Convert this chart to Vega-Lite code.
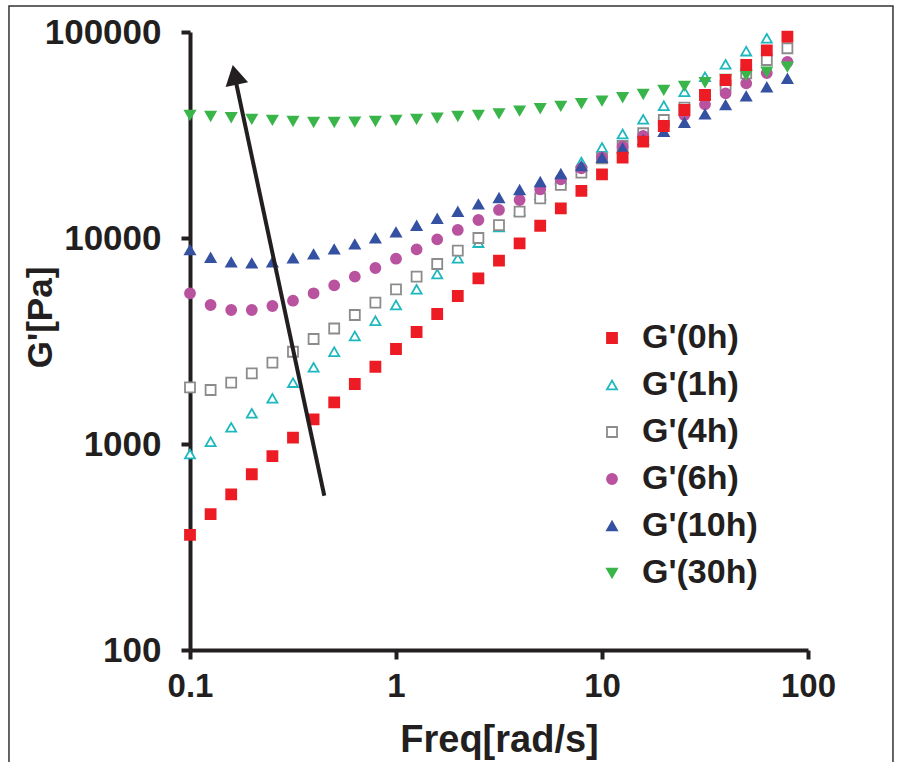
{
  "$schema": "https://vega.github.io/schema/vega-lite/v6.json",
  "width": 618,
  "height": 618,
  "autosize": {"type": "none"},
  "padding": {"left": 190, "top": 32, "right": 91, "bottom": 112},
  "background": "white",
  "config": {"view": {"stroke": null}, "font": "Liberation Sans"},
  "encoding": {
    "x": {
      "field": "f", "type": "quantitative",
      "scale": {"type": "log", "domain": [0.1, 100], "nice": false, "zero": false},
      "axis": {
        "values": [0.1, 1, 10, 100], "format": "~g", "grid": false,
        "domainWidth": 4, "domainColor": "#231F20", "tickWidth": 4, "tickSize": 9, "tickColor": "#231F20",
        "labelFont": "Liberation Sans", "labelFontWeight": "bold", "labelFontSize": 33, "labelColor": "#231F20",
        "labelPadding": 11, "labelFlush": false, "labelOverlap": false,
        "title": "Freq[rad/s]", "titleFont": "Liberation Sans", "titleFontSize": 38, "titleFontWeight": "bold",
        "titleColor": "#231F20", "titlePadding": 18
      }
    },
    "y": {
      "field": "g", "type": "quantitative",
      "scale": {"type": "log", "domain": [100, 100000], "nice": false, "zero": false},
      "axis": {
        "values": [100, 1000, 10000, 100000], "format": "~g", "grid": false,
        "domainWidth": 4, "domainColor": "#231F20", "tickWidth": 4, "tickSize": 9, "tickColor": "#231F20",
        "labelFont": "Liberation Sans", "labelFontWeight": "bold", "labelFontSize": 35, "labelColor": "#231F20",
        "labelPadding": 20, "labelFlush": false, "labelOverlap": false,
        "title": "G'[Pa]", "titleFont": "Liberation Sans", "titleFontSize": 35, "titleFontWeight": "bold",
        "titleColor": "#231F20", "titleAngle": -90, "titleAlign": "center", "titleBaseline": "middle",
        "titleX": -150, "titleY": 285
      }
    }
  },
  "layer": [
    {
      "data": {"values": [{"f": 0.01322, "f2": 258.5, "g": 26.2, "g2": 133740}]},
      "mark": {"type": "rect", "fill": null, "stroke": "#333333", "strokeWidth": 1.5},
      "encoding": {"x2": {"field": "f2"}, "y2": {"field": "g2"}}
    },
    {
      "data": {"values": [
        {"s":"G'(1h)","f":0.1,"g":894},{"s":"G'(1h)","f":0.1259,"g":1026},{"s":"G'(1h)","f":0.1585,"g":1205},{"s":"G'(1h)","f":0.1995,"g":1409},{"s":"G'(1h)","f":0.2512,"g":1667},{"s":"G'(1h)","f":0.3162,"g":1985},{"s":"G'(1h)","f":0.3981,"g":2357},{"s":"G'(1h)","f":0.5012,"g":2805},{"s":"G'(1h)","f":0.631,"g":3344},{"s":"G'(1h)","f":0.7943,"g":3967},{"s":"G'(1h)","f":1,"g":4730},{"s":"G'(1h)","f":1.259,"g":5636},{"s":"G'(1h)","f":1.585,"g":6688},{"s":"G'(1h)","f":1.995,"g":7972},{"s":"G'(1h)","f":2.512,"g":9490},{"s":"G'(1h)","f":3.162,"g":11310},{"s":"G'(1h)","f":3.981,"g":13520},{"s":"G'(1h)","f":5.012,"g":16170},{"s":"G'(1h)","f":6.31,"g":19340},{"s":"G'(1h)","f":7.943,"g":23380},{"s":"G'(1h)","f":10,"g":27500},{"s":"G'(1h)","f":12.59,"g":31980},{"s":"G'(1h)","f":15.85,"g":37690},{"s":"G'(1h)","f":19.95,"g":43870},{"s":"G'(1h)","f":25.12,"g":51310},{"s":"G'(1h)","f":31.62,"g":60600},{"s":"G'(1h)","f":39.81,"g":69700},{"s":"G'(1h)","f":50.12,"g":80700},{"s":"G'(1h)","f":63.1,"g":93200},
        {"s":"G'(4h)","f":0.1,"g":1885},{"s":"G'(4h)","f":0.1259,"g":1829},{"s":"G'(4h)","f":0.1585,"g":1985},{"s":"G'(4h)","f":0.1995,"g":2204},{"s":"G'(4h)","f":0.2512,"g":2481},{"s":"G'(4h)","f":0.3162,"g":2805},{"s":"G'(4h)","f":0.3981,"g":3233},{"s":"G'(4h)","f":0.5012,"g":3637},{"s":"G'(4h)","f":0.631,"g":4229},{"s":"G'(4h)","f":0.7943,"g":4852},{"s":"G'(4h)","f":1,"g":5636},{"s":"G'(4h)","f":1.259,"g":6489},{"s":"G'(4h)","f":1.585,"g":7478},{"s":"G'(4h)","f":1.995,"g":8675},{"s":"G'(4h)","f":2.512,"g":10000},{"s":"G'(4h)","f":3.162,"g":11560},{"s":"G'(4h)","f":3.981,"g":13420},{"s":"G'(4h)","f":5.012,"g":15580},{"s":"G'(4h)","f":6.31,"g":18090},{"s":"G'(4h)","f":7.943,"g":20750},{"s":"G'(4h)","f":10,"g":24370},{"s":"G'(4h)","f":12.59,"g":27970},{"s":"G'(4h)","f":15.85,"g":32240},{"s":"G'(4h)","f":19.95,"g":37400},{"s":"G'(4h)","f":25.12,"g":42910},{"s":"G'(4h)","f":31.62,"g":49450},{"s":"G'(4h)","f":39.81,"g":54700},{"s":"G'(4h)","f":50.12,"g":63030},{"s":"G'(4h)","f":63.1,"g":73110},{"s":"G'(4h)","f":79.43,"g":83370},
        {"s":"G'(6h)","f":0.1,"g":5390},{"s":"G'(6h)","f":0.1259,"g":4730},{"s":"G'(6h)","f":0.1585,"g":4472},{"s":"G'(6h)","f":0.1995,"g":4472},{"s":"G'(6h)","f":0.2512,"g":4676},{"s":"G'(6h)","f":0.3162,"g":4961},{"s":"G'(6h)","f":0.3981,"g":5390},{"s":"G'(6h)","f":0.5012,"g":5893},{"s":"G'(6h)","f":0.631,"g":6489},{"s":"G'(6h)","f":0.7943,"g":7153},{"s":"G'(6h)","f":1,"g":7933},{"s":"G'(6h)","f":1.259,"g":8812},{"s":"G'(6h)","f":1.585,"g":9856},{"s":"G'(6h)","f":1.995,"g":10940},{"s":"G'(6h)","f":2.512,"g":12230},{"s":"G'(6h)","f":3.162,"g":13680},{"s":"G'(6h)","f":3.981,"g":15290},{"s":"G'(6h)","f":5.012,"g":17240},{"s":"G'(6h)","f":6.31,"g":19280},{"s":"G'(6h)","f":7.943,"g":21790},{"s":"G'(6h)","f":10,"g":24640},{"s":"G'(6h)","f":12.59,"g":27750},{"s":"G'(6h)","f":15.85,"g":31270},{"s":"G'(6h)","f":19.95,"g":35090},{"s":"G'(6h)","f":25.12,"g":39550},{"s":"G'(6h)","f":31.62,"g":44570},{"s":"G'(6h)","f":39.81,"g":50400},{"s":"G'(6h)","f":50.12,"g":56360},{"s":"G'(6h)","f":63.1,"g":63240},{"s":"G'(6h)","f":79.43,"g":71500},
        {"s":"G'(10h)","f":0.1,"g":8743},{"s":"G'(10h)","f":0.1259,"g":8026},{"s":"G'(10h)","f":0.1585,"g":7621},{"s":"G'(10h)","f":0.1995,"g":7537},{"s":"G'(10h)","f":0.2512,"g":7621},{"s":"G'(10h)","f":0.3162,"g":7972},{"s":"G'(10h)","f":0.3981,"g":8335},{"s":"G'(10h)","f":0.5012,"g":8812},{"s":"G'(10h)","f":0.631,"g":9320},{"s":"G'(10h)","f":0.7943,"g":9966},{"s":"G'(10h)","f":1,"g":10660},{"s":"G'(10h)","f":1.259,"g":11470},{"s":"G'(10h)","f":1.585,"g":12410},{"s":"G'(10h)","f":1.995,"g":13420},{"s":"G'(10h)","f":2.512,"g":14580},{"s":"G'(10h)","f":3.162,"g":15640},{"s":"G'(10h)","f":3.981,"g":17100},{"s":"G'(10h)","f":5.012,"g":18700},{"s":"G'(10h)","f":6.31,"g":20450},{"s":"G'(10h)","f":7.943,"g":22360},{"s":"G'(10h)","f":10,"g":24530},{"s":"G'(10h)","f":12.59,"g":27250},{"s":"G'(10h)","f":15.85,"g":29900},{"s":"G'(10h)","f":19.95,"g":32810},{"s":"G'(10h)","f":25.12,"g":36280},{"s":"G'(10h)","f":31.62,"g":39860},{"s":"G'(10h)","f":39.81,"g":44150},{"s":"G'(10h)","f":50.12,"g":48700},{"s":"G'(10h)","f":63.1,"g":53950},{"s":"G'(10h)","f":79.43,"g":59350},
        {"s":"G'(30h)","f":0.1,"g":39550},{"s":"G'(30h)","f":0.1259,"g":39100},{"s":"G'(30h)","f":0.1585,"g":38550},{"s":"G'(30h)","f":0.1995,"g":37820},{"s":"G'(30h)","f":0.2512,"g":37400},{"s":"G'(30h)","f":0.3162,"g":36980},{"s":"G'(30h)","f":0.3981,"g":36570},{"s":"G'(30h)","f":0.5012,"g":36570},{"s":"G'(30h)","f":0.631,"g":36700},{"s":"G'(30h)","f":0.7943,"g":36980},{"s":"G'(30h)","f":1,"g":37400},{"s":"G'(30h)","f":1.259,"g":37820},{"s":"G'(30h)","f":1.585,"g":38370},{"s":"G'(30h)","f":1.995,"g":39100},{"s":"G'(30h)","f":2.512,"g":39550},{"s":"G'(30h)","f":3.162,"g":40220},{"s":"G'(30h)","f":3.981,"g":41500},{"s":"G'(30h)","f":5.012,"g":42620},{"s":"G'(30h)","f":6.31,"g":43740},{"s":"G'(30h)","f":7.943,"g":45070},{"s":"G'(30h)","f":10,"g":46400},{"s":"G'(30h)","f":12.59,"g":48200},{"s":"G'(30h)","f":15.85,"g":50000},{"s":"G'(30h)","f":19.95,"g":52300},{"s":"G'(30h)","f":25.12,"g":54700},{"s":"G'(30h)","f":31.62,"g":57000},{"s":"G'(30h)","f":39.81,"g":59100},{"s":"G'(30h)","f":50.12,"g":61840},{"s":"G'(30h)","f":63.1,"g":64170},{"s":"G'(30h)","f":79.43,"g":67870},
        {"s":"G'(0h)","f":0.1,"g":362},{"s":"G'(0h)","f":0.1259,"g":457},{"s":"G'(0h)","f":0.1585,"g":570},{"s":"G'(0h)","f":0.1995,"g":713},{"s":"G'(0h)","f":0.2512,"g":874},{"s":"G'(0h)","f":0.3162,"g":1073},{"s":"G'(0h)","f":0.3981,"g":1318},{"s":"G'(0h)","f":0.5012,"g":1594},{"s":"G'(0h)","f":0.631,"g":1956},{"s":"G'(0h)","f":0.7943,"g":2372},{"s":"G'(0h)","f":1,"g":2892},{"s":"G'(0h)","f":1.259,"g":3497},{"s":"G'(0h)","f":1.585,"g":4277},{"s":"G'(0h)","f":1.995,"g":5228},{"s":"G'(0h)","f":2.512,"g":6375},{"s":"G'(0h)","f":3.162,"g":7759},{"s":"G'(0h)","f":3.981,"g":9425},{"s":"G'(0h)","f":5.012,"g":11470},{"s":"G'(0h)","f":6.31,"g":13940},{"s":"G'(0h)","f":7.943,"g":16920},{"s":"G'(0h)","f":10,"g":20380},{"s":"G'(0h)","f":12.59,"g":24530},{"s":"G'(0h)","f":15.85,"g":29340},{"s":"G'(0h)","f":19.95,"g":34970},{"s":"G'(0h)","f":25.12,"g":41820},{"s":"G'(0h)","f":31.62,"g":49450},{"s":"G'(0h)","f":39.81,"g":58480},{"s":"G'(0h)","f":50.12,"g":69170},{"s":"G'(0h)","f":63.1,"g":81450},{"s":"G'(0h)","f":79.43,"g":94890}
      ]},
      "mark": {"type": "point", "filled": true, "size": 100, "strokeWidth": 1.8, "opacity": 1},
      "encoding": {
        "fill": {
          "field": "s", "type": "nominal",
          "scale": {"domain": ["G'(0h)", "G'(1h)", "G'(4h)", "G'(6h)", "G'(10h)", "G'(30h)"], "range": ["#ED1C24", "#FFFFFF", "#FFFFFF", "#B9529F", "#3551A2", "#39B54A"]},
          "legend": {"orient": "none", "legendX": 405, "legendY": 289, "title": null, "labelFont": "Liberation Sans", "labelFontSize": 34, "labelFontWeight": "bold", "labelColor": "#231F20", "symbolSize": 100, "symbolStrokeWidth": 1.8, "rowPadding": 13, "labelOffset": 13}
        },
        "stroke": {
          "field": "s", "type": "nominal",
          "scale": {"domain": ["G'(0h)", "G'(1h)", "G'(4h)", "G'(6h)", "G'(10h)", "G'(30h)"], "range": ["#ED1C24", "#1DB8BE", "#8C8C8C", "#B9529F", "#3551A2", "#39B54A"]},
          "legend": {"orient": "none", "legendX": 405, "legendY": 289, "title": null, "labelFont": "Liberation Sans", "labelFontSize": 34, "labelFontWeight": "bold", "labelColor": "#231F20", "symbolSize": 100, "symbolStrokeWidth": 1.8, "rowPadding": 13, "labelOffset": 13}
        },
        "shape": {
          "field": "s", "type": "nominal",
          "scale": {"domain": ["G'(0h)", "G'(1h)", "G'(4h)", "G'(6h)", "G'(10h)", "G'(30h)"], "range": ["square", "triangle-up", "square", "circle", "triangle-up", "triangle-down"]},
          "legend": {"orient": "none", "legendX": 405, "legendY": 289, "title": null, "labelFont": "Liberation Sans", "labelFontSize": 34, "labelFontWeight": "bold", "labelColor": "#231F20", "symbolSize": 100, "symbolStrokeWidth": 1.8, "rowPadding": 13, "labelOffset": 13}
        }
      }
    },
    {
      "data": {"values": [{"f": 0.4487, "g": 561, "f2": 0.1663, "g2": 58480}]},
      "mark": {"type": "rule", "color": "#231F20", "strokeWidth": 4},
      "encoding": {"x2": {"field": "f2"}, "y2": {"field": "g2"}}
    },
    {
      "data": {"values": [{"f": 0.165, "g": 61970}]},
      "mark": {"type": "point", "shape": "triangle-up", "filled": true, "size": 529, "angle": -12, "color": "#231F20", "opacity": 1, "strokeWidth": 0}
    }
  ]
}
